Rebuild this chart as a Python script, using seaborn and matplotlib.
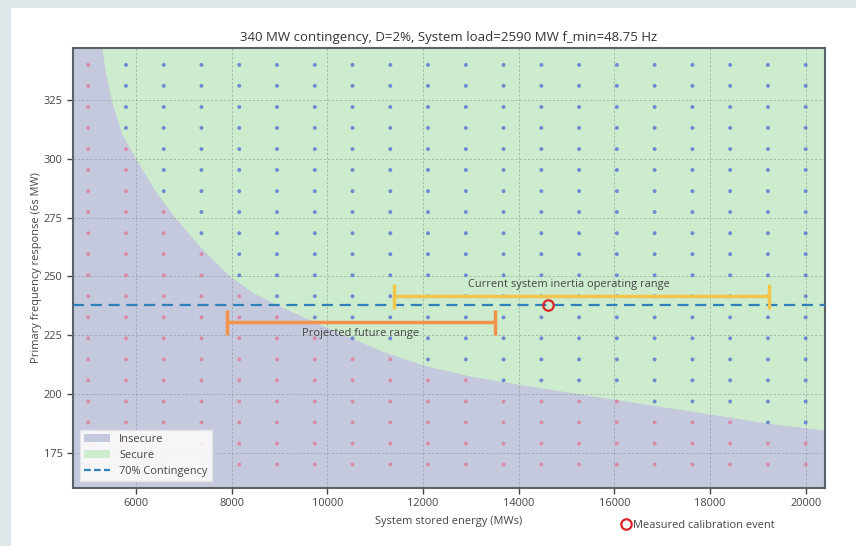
import matplotlib
matplotlib.use("Agg")
import numpy as np
import pandas as pd
import matplotlib.pyplot as plt
from matplotlib.patches import Patch, Rectangle
from matplotlib.lines import Line2D
import seaborn as sns

# ---------------- data ----------------
energy_grid = [5000, 5789, 6579, 7368, 8158, 8947, 9737, 10526, 11316, 12105,
               12895, 13684, 14474, 15263, 16053, 16842, 17632, 18421, 19211, 20000]
pfr_grid = [170.0, 178.9, 187.9, 196.8, 205.8, 214.7, 223.7, 232.6, 241.6, 250.5,
            259.5, 268.4, 277.4, 286.3, 295.3, 304.2, 313.2, 322.1, 331.1, 340.0]

boundary_energy = [5282, 5370, 5483, 5700, 6000, 6400, 6816, 7400, 7966, 8450,
                   8943, 9600, 10330, 11150, 12004, 12500, 13000, 14000, 15000,
                   16021, 17000, 18000, 19200, 20414]
boundary_pfr = [347.1, 336.0, 325.0, 310.9, 300.0, 286.4, 275.0, 261.3, 250.0, 243.0,
                238.0, 231.8, 225.3, 218.2, 212.3, 209.9, 207.6, 204.1, 200.9,
                197.7, 194.6, 191.5, 187.6, 184.6]

contingency_70 = 238.0
current_range = [11400, 19230]
current_range_pfr = 241.5
future_range = [7900, 13500]
future_range_pfr = 230.5
calibration_event = (14613, 238.0)

title = "340 MW contingency, D=2%, System load=2590 MW f_min=48.75 Hz"
xticks = [6000, 8000, 10000, 12000, 14000, 16000, 18000, 20000]
yticks = [175, 200, 225, 250, 275, 300, 325]

# ---------------- style ----------------
sns.set_theme(style="white")
plt.rcParams['font.family'] = ['Open Sans', 'DejaVu Sans']

C_INSEC = "#c4c9dd"
C_SEC = "#cdeccd"
C_DOT_IN = "#dc85a0"
C_DOT_SEC = "#6480d4"
C_LINE = "#2f80b8"
C_YEL = "#f3c54a"
C_ORG = "#f3924a"
C_TXT = "#444444"
FS = 7.9

fig = plt.figure(figsize=(8.56, 5.46), dpi=100)
fig.patch.set_facecolor("#dfe7ea")
fig.add_artist(Rectangle((11 / 856, 0), 1, 1 - 8 / 546, transform=fig.transFigure,
                         facecolor="white", edgecolor="none", zorder=-10))

ax = fig.add_axes([73 / 856, 1 - 488 / 546, (825 - 73) / 856, (488 - 48) / 546])
ax.set_facecolor(C_INSEC)
ax.set_xlim(4682, 20404)
ax.set_ylim(160.0, 347.2)

# secure region
ax.fill_between(boundary_energy, boundary_pfr, 400, color=C_SEC, linewidth=0, zorder=1)

# grid of dots
E, P = np.meshgrid(energy_grid, pfr_grid)
df = pd.DataFrame({"energy": E.ravel(), "pfr": P.ravel()})
limit = np.interp(df["energy"], boundary_energy, boundary_pfr)
df["state"] = np.where(df["pfr"] > limit, "Secure", "Insecure")
sns.scatterplot(data=df, x="energy", y="pfr", hue="state",
                palette={"Secure": C_DOT_SEC, "Insecure": C_DOT_IN},
                s=8, linewidth=0, alpha=0.9, legend=False, ax=ax, zorder=3)

# grid lines
ax.grid(True, linestyle=(0, (3, 2)), linewidth=0.6, color="#8a8f95", alpha=0.6)
ax.set_axisbelow("line")

# contingency line
ax.axhline(contingency_70, color=C_LINE, linestyle=(0, (5, 3)), linewidth=1.6, zorder=4)

# ranges
ax.errorbar([(current_range[0] + current_range[1]) / 2], [current_range_pfr],
            xerr=[(current_range[1] - current_range[0]) / 2], color=C_YEL,
            linewidth=2.5, capsize=9, capthick=2.5, fmt="none", zorder=5)
ax.text(15050, current_range_pfr + 5.2, "Current system inertia operating range",
        ha="center", va="center", fontsize=FS, color=C_TXT, zorder=6)
ax.errorbar([(future_range[0] + future_range[1]) / 2], [future_range_pfr],
            xerr=[(future_range[1] - future_range[0]) / 2], color=C_ORG,
            linewidth=2.5, capsize=9, capthick=2.5, fmt="none", zorder=5)
ax.text((future_range[0] + future_range[1]) / 2, future_range_pfr - 4.8,
        "Projected future range", ha="center", va="center", fontsize=FS,
        color=C_TXT, zorder=6)

# calibration event
ax.plot([calibration_event[0]], [calibration_event[1]], marker="o", markersize=7.5,
        markerfacecolor="none", markeredgecolor="#d9252a", markeredgewidth=1.6,
        linestyle="none", zorder=7)

ax.set_xticks(xticks)
ax.set_yticks(yticks)
ax.tick_params(axis="both", labelsize=FS, colors="#444444", length=4, width=1,
               direction="out", bottom=True, left=True)
for s in ax.spines.values():
    s.set_color("#5b6169")
    s.set_linewidth(1.5)

ax.set_title(title, fontsize=9.5, color="#333333", pad=5)
ax.set_xlabel("System stored energy (MWs)", fontsize=FS, color="#444444", labelpad=5)
ax.set_ylabel("Primary frequency response (6s MW)", fontsize=FS, color="#444444", labelpad=1)

handles = [Patch(facecolor=C_INSEC, edgecolor="none", label="Insecure"),
           Patch(facecolor=C_SEC, edgecolor="none", label="Secure"),
           Line2D([0], [0], color=C_LINE, linestyle=(0, (3, 1.5)), linewidth=1.6,
                  label="70% Contingency")]
leg = ax.legend(handles=handles, loc="lower left", fontsize=FS, frameon=True,
                fancybox=False, framealpha=0.85, edgecolor="#e5e5e5",
                borderaxespad=0.6, handlelength=2.4, labelspacing=0.45)
for t in leg.get_texts():
    t.set_color("#444444")

cal_handle = Line2D([0], [0], marker="o", markersize=7.5, markerfacecolor="none",
                    markeredgecolor="#d9252a", markeredgewidth=1.6, linestyle="none",
                    label="Measured calibration event")
leg2 = fig.legend(handles=[cal_handle], loc="center left",
                  bbox_to_anchor=(612 / 856, 1 - 525 / 546), frameon=False,
                  fontsize=FS, handlelength=0.8, handletextpad=0.2)
for t in leg2.get_texts():
    t.set_color("#444444")

fig.savefig("out.png", dpi=100, facecolor=fig.get_facecolor())
